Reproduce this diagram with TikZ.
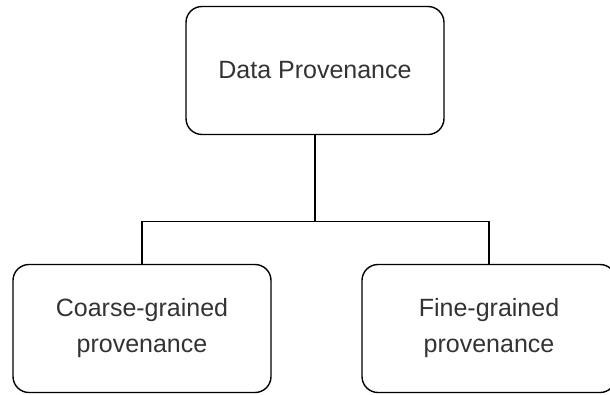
\documentclass[tikz,border=0pt]{standalone}
\usepackage{fontspec}
\setmainfont{Liberation Sans}
\begin{document}
\begin{tikzpicture}[x=1pt,y=-1pt,
  box/.style={draw=black,line width=1.4pt,rounded corners=16pt,minimum width=258pt,minimum height=128pt,
    align=center,text=black!80,font=\fontsize{25}{36}\selectfont,inner sep=0pt},
  link/.style={draw=black,line width=1.4pt}]
\useasboundingbox (0,0) rectangle (610,394);
\clip (0,0) rectangle (610,394);
\node[box] (top) at (315,70.5) {Data Provenance};
\node[box] (left) at (142,328.5) {Coarse-grained\\provenance};
\node[box,minimum width=254pt] (right) at (489,328.5) {Fine-grained\\provenance};
\coordinate (mid) at (316,221.5);
\draw[link] (top.south) -- (top.south |- mid) -| (left.north);
\draw[link] (top.south |- mid) -| (right.north);
\end{tikzpicture}
\end{document}
